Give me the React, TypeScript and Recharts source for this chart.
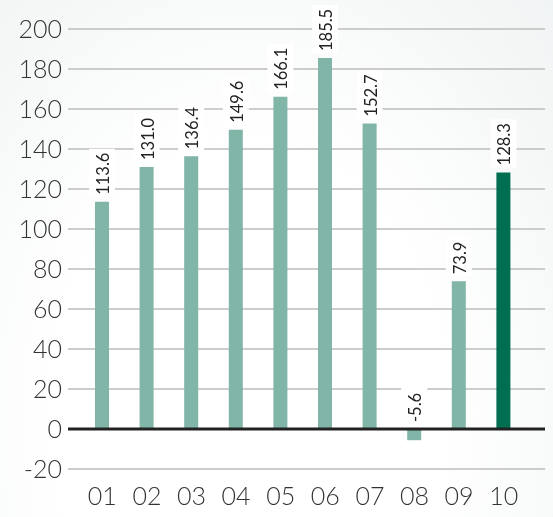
import React from 'react';
import { BarChart, Bar, XAxis, YAxis, CartesianGrid, ReferenceLine, Cell, LabelList } from 'recharts';

// Monthly values, 01..10
const months = ['01', '02', '03', '04', '05', '06', '07', '08', '09', '10'];
const values = [113.6, 131.0, 136.4, 149.6, 166.1, 185.5, 152.7, -5.6, 73.9, 128.3];
const yTicks = [-20, 0, 20, 40, 60, 80, 100, 120, 140, 160, 180, 200];

const data = months.map((m, i) => ({ month: m, value: values[i] }));

const LIGHT = '#80b5a7';
const DARK = '#006f51';
const FONT = 'Lato, "DejaVu Sans", sans-serif';

// Rotated value label sitting on a white patch above the bar (or above zero for negatives)
const ValueLabel = (props: any) => {
  const { x, y, width, height, value } = props;
  const cx = x + width / 2;
  const top = Math.min(y, y + height);
  const text = value.toFixed(1);
  const len = text.length * 8.4;
  const base = top - 7;
  return (
    <g>
      <rect x={cx - 13} y={base - len - 4} width={26} height={len + 6} fill="#ffffff" />
      <text
        x={cx + 1}
        y={base}
        transform={`rotate(-90, ${cx + 1}, ${base})`}
        textAnchor="start"
        dominantBaseline="central"
        fontSize={16.5}
        fontFamily={FONT}
        fill="#222"
      >
        {text}
      </text>
    </g>
  );
};

export default function App() {
  return (
    <div
      style={{
        position: 'fixed',
        left: 0,
        top: 0,
        width: 553,
        height: 517,
        background: 'radial-gradient(ellipse at 45% 80%, #ffffff 45%, #f1f4f4 100%)',
      }}
    >
      <BarChart width={553} height={517} data={data} margin={{ top: 29, right: 8, left: 0, bottom: 0 }}>
        <CartesianGrid vertical={false} stroke="#bdbdbd" strokeWidth={1.5} />
        <XAxis
          dataKey="month"
          axisLine={false}
          tickLine={false}
          height={48}
          tickMargin={12}
          padding={{ left: 12, right: 19 }}
          tick={{ fontSize: 25, fontFamily: FONT, fontWeight: 300, fill: '#333' }}
        />
        <YAxis
          domain={[-20, 200]}
          ticks={yTicks}
          axisLine={false}
          tickLine={false}
          width={68}
          tickMargin={0}
          interval={0}
          tick={{ fontSize: 25, fontFamily: FONT, fontWeight: 300, fill: '#333' }}
        />
        <Bar dataKey="value" barSize={14} isAnimationActive={false}>
          {data.map((d, i) => (
            <Cell key={d.month} fill={i === data.length - 1 ? DARK : LIGHT} />
          ))}
          <LabelList dataKey="value" content={<ValueLabel />} />
        </Bar>
        <ReferenceLine y={0} stroke="#222" strokeWidth={3} />
      </BarChart>
    </div>
  );
}
